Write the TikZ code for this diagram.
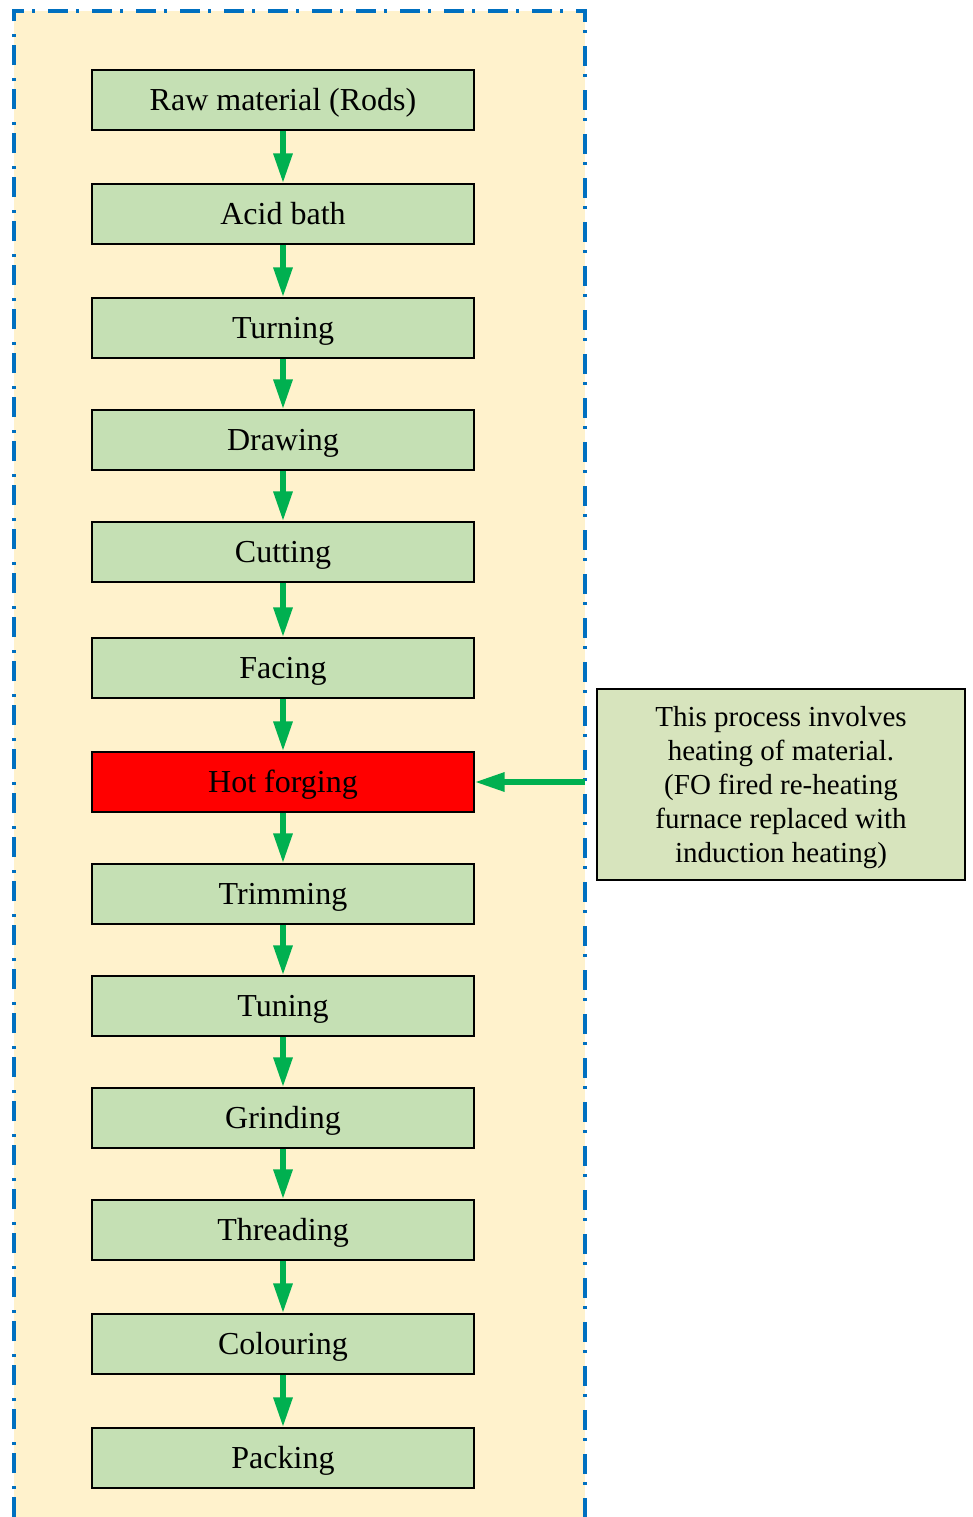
\documentclass[tikz,border=0pt]{standalone}
\usepackage{fontspec}
\setmainfont{Liberation Serif}
\usetikzlibrary{arrows.meta}
\definecolor{bgfill}{HTML}{FFF2CC}
\definecolor{boxfill}{HTML}{C5E0B4}
\definecolor{notefill}{HTML}{D7E4BD}
\definecolor{bordblue}{HTML}{0070C0}
\definecolor{arrgreen}{HTML}{00B050}
\tikzset{
  stepbox/.style={draw=black, line width=0.6pt, fill=boxfill, minimum width=191pt, minimum height=30pt, inner sep=0pt, text height=10.5pt, text depth=0pt, font=\fontsize{16}{19}\selectfont},
  hotbox/.style={stepbox, fill=red},
  notebox/.style={draw=black, line width=0.6pt, fill=notefill, minimum width=184pt, minimum height=95.5pt, inner sep=0pt, align=center, font=\fontsize{14.5}{17}\selectfont},
  flow/.style={draw=arrgreen, line width=3pt, -{Triangle[length=15pt,width=9pt]}},
  frame/.style={draw=bordblue, line width=2pt, dash pattern=on 10pt off 4pt on 1.5pt off 6.5pt}
}
\begin{document}
\begin{tikzpicture}[x=0.5pt,y=-0.5pt]
\useasboundingbox (0,0) rectangle (973,1517);
\fill[bgfill] (14,11) rectangle (585,1517);
\draw[frame] (14,1517) -- (14,11) -- (585,11) -- (585,1517);
\node[stepbox] (n1) at (283,100) {Raw material (Rods)};
\node[stepbox] (n2) at (283,214) {Acid bath};
\node[stepbox] (n3) at (283,328) {Turning};
\node[stepbox] (n4) at (283,440) {Drawing};
\node[stepbox] (n5) at (283,552) {Cutting};
\node[stepbox] (n6) at (283,668) {Facing};
\node[hotbox] (n7) at (283,782) {Hot forging};
\node[stepbox] (n8) at (283,894) {Trimming};
\node[stepbox] (n9) at (283,1006) {Tuning};
\node[stepbox] (n10) at (283,1118) {Grinding};
\node[stepbox] (n11) at (283,1230) {Threading};
\node[stepbox] (n12) at (283,1344) {Colouring};
\node[stepbox] (n13) at (283,1458) {Packing};
\node[notebox] (note) at (781,784.5) {\rule{0pt}{12.9pt}This process involves\\heating of material.\\(FO fired re-heating\\furnace replaced with\\induction heating)};
\coordinate (src) at (585,782);
\foreach \a/\b in {n1/n2,n2/n3,n3/n4,n4/n5,n5/n6,n6/n7,n7/n8,n8/n9,n9/n10,n10/n11,n11/n12,n12/n13}
  \draw[flow] (\a.south) -- (\b.north);
\draw[flow] (src) -- (n7.east);
\end{tikzpicture}
\end{document}
